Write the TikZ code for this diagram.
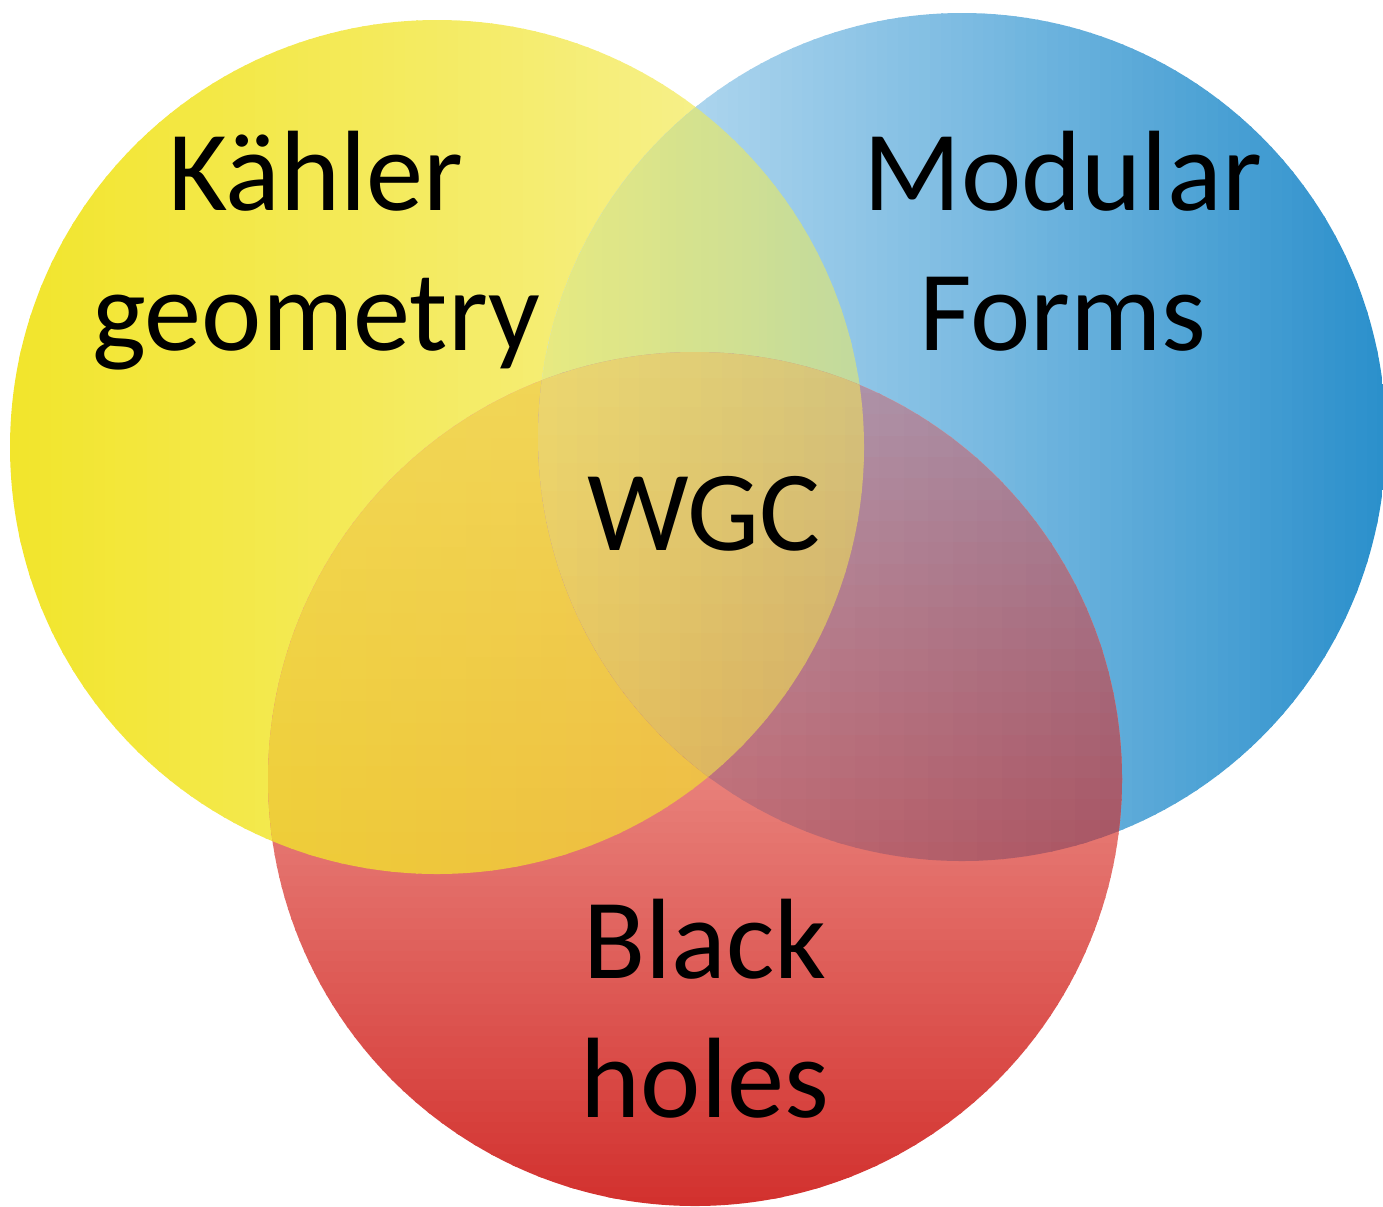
\documentclass[tikz,border=0pt]{standalone}
\usepackage{fontspec}
\setmainfont{Carlito}
\definecolor{yL}{RGB}{242,229,43}
\definecolor{yM}{RGB}{244,235,99}
\definecolor{yR}{RGB}{248,243,160}
\definecolor{bL}{RGB}{200,227,244}
\definecolor{bM}{RGB}{125,188,226}
\definecolor{bR}{RGB}{42,143,203}
\definecolor{rT}{RGB}{240,165,160}
\definecolor{rM}{RGB}{232,128,122}
\definecolor{rB}{RGB}{210,48,45}
\definecolor{ybL}{RGB}{232,234,128}
\definecolor{ybR}{RGB}{192,217,158}
\definecolor{yrUL}{RGB}{243,218,85}
\definecolor{yrUR}{RGB}{240,210,92}
\definecolor{yrLL}{RGB}{238,205,55}
\definecolor{yrLR}{RGB}{238,180,72}
\definecolor{brUL}{RGB}{188,168,188}
\definecolor{brUR}{RGB}{160,135,160}
\definecolor{brLL}{RGB}{205,115,120}
\definecolor{brLR}{RGB}{168,84,98}
\definecolor{tUL}{RGB}{236,216,112}
\definecolor{tUR}{RGB}{212,196,126}
\definecolor{tLL}{RGB}{234,196,88}
\definecolor{tLR}{RGB}{210,168,100}
% bilinear colour grid: x0 x1 y0 y1 UL UR LL LR ; cell counts in \NX, \NY
\newcommand{\bgrid}[8]{%
  \pgfmathtruncatemacro{\NXm}{\NX-1}%
  \pgfmathtruncatemacro{\NYm}{\NY-1}%
  \pgfmathsetmacro{\dxc}{(#2-#1)/\NX}%
  \pgfmathsetmacro{\dyc}{(#4-#3)/\NY}%
  \foreach \j in {0,...,\NYm}{%
    \foreach \i in {0,...,\NXm}{%
      \pgfmathsetmacro{\xa}{#1+\dxc*\i}%
      \pgfmathsetmacro{\xb}{#1+\dxc*(\i+1)+2}%
      \pgfmathsetmacro{\ya}{#3+\dyc*\j}%
      \pgfmathsetmacro{\yb}{#3+\dyc*(\j+1)+2}%
      \pgfmathsetmacro{\pu}{100*(\i+0.5)/\NX}%
      \pgfmathsetmacro{\pv}{100*(\j+0.5)/\NY}%
      \colorlet{ct}{#6!\pu!#5}%
      \colorlet{cb}{#8!\pu!#7}%
      \colorlet{cc}{cb!\pv!ct}%
      \fill[cc] (\xa,\ya) rectangle (\xb,\yb);
    }}}
\begin{document}
\begin{tikzpicture}[x=0.01cm,y=-0.01cm,
  lbl/.style={font=\fontsize{32.5}{39}\selectfont, anchor=base, inner sep=0pt, text=black}]
\useasboundingbox (0,0) rectangle (1383,1206);
% yellow circle
\begin{scope}
  \clip (437,447) circle[radius=427];
  \def\NX{40}\def\NY{1}
  \bgrid{8}{437}{18}{876}{yL}{yM}{yL}{yM}
  \bgrid{437}{866}{18}{876}{yM}{yR}{yM}{yR}
\end{scope}
% blue circle
\begin{scope}
  \clip (962,437) circle[radius=424];
  \def\NX{40}\def\NY{1}
  \bgrid{536}{962}{10}{863}{bL}{bM}{bL}{bM}
  \bgrid{962}{1388}{10}{863}{bM}{bR}{bM}{bR}
\end{scope}
% red circle
\begin{scope}
  \clip (695,779) circle[radius=427];
  \def\NX{1}\def\NY{40}
  \bgrid{266}{1124}{350}{779}{rT}{rT}{rM}{rM}
  \bgrid{266}{1124}{779}{1208}{rM}{rM}{rB}{rB}
\end{scope}
% yellow & blue
\begin{scope}
  \clip (437,447) circle[radius=427];
  \clip (962,437) circle[radius=424];
  \def\NX{40}\def\NY{1}
  \bgrid{536}{866}{10}{450}{ybL}{ybR}{ybL}{ybR}
\end{scope}
% yellow & red
\begin{scope}
  \clip (437,447) circle[radius=427];
  \clip (695,779) circle[radius=427];
  \def\NX{24}\def\NY{24}
  \bgrid{266}{866}{350}{876}{yrUL}{yrUR}{yrLL}{yrLR}
\end{scope}
% blue & red
\begin{scope}
  \clip (962,437) circle[radius=424];
  \clip (695,779) circle[radius=427];
  \def\NX{24}\def\NY{24}
  \bgrid{536}{1124}{350}{863}{brUL}{brUR}{brLL}{brLR}
\end{scope}
% all three
\begin{scope}
  \clip (437,447) circle[radius=427];
  \clip (962,437) circle[radius=424];
  \clip (695,779) circle[radius=427];
  \def\NX{16}\def\NY{16}
  \bgrid{536}{866}{350}{802}{tUL}{tUR}{tLL}{tLR}
\end{scope}
% labels
\node[lbl] (k1) at (316,210) {Kähler};
\node[lbl] (k2) at (316,350) {geometry};
\node[lbl] (m1) at (1063,210) {Modular};
\node[lbl] (m2) at (1063,350) {Forms};
\node[lbl] (w)  at (704,550) {WGC};
\node[lbl] (b1) at (705,978) {Black};
\node[lbl] (b2) at (705,1117) {holes};
\end{tikzpicture}
\end{document}
